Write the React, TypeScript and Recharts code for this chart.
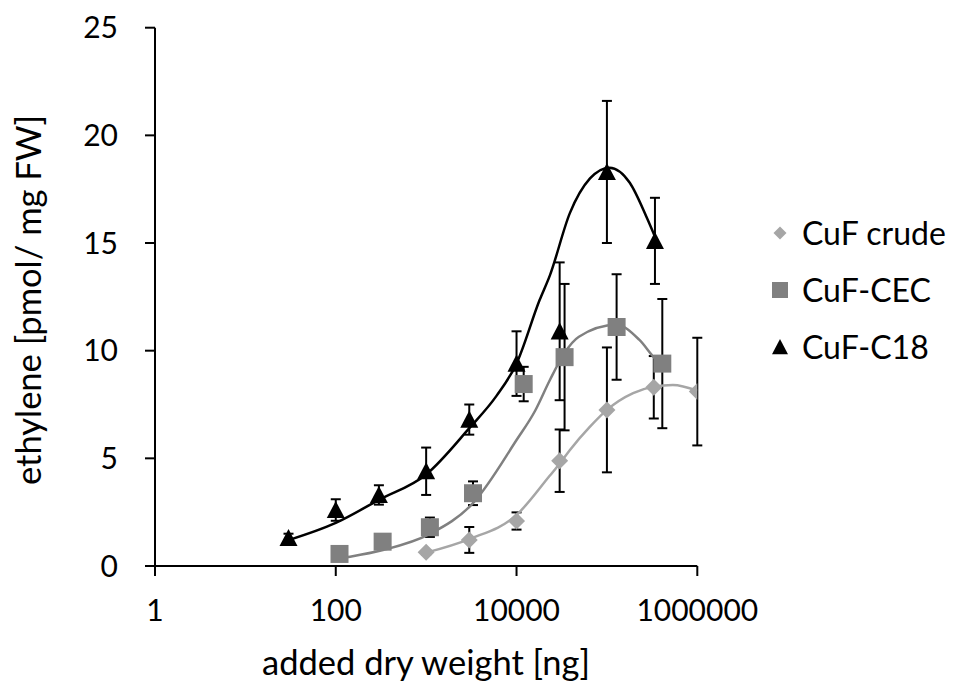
import React from "react";
import { ComposedChart, Scatter, XAxis, YAxis, ErrorBar, Label } from "recharts";

const FONT = "Lato, 'Open Sans', sans-serif";
const TICK_FS = 30;
const TITLE_FS = 34.5;
const LEGEND_FS = 32;

const xTicks = [1, 100, 10000, 1000000];
const yTicks = [0, 5, 10, 15, 20, 25];
const seriesNames = ["CuF crude", "CuF-CEC", "CuF-C18"];

// measured points (mean, error)
const crudeX = [1000, 3000, 10000, 30000, 100000, 330000, 1000000];
const crudeY = [0.64, 1.21, 2.09, 4.89, 7.25, 8.3, 8.1];
const crudeErr = [0.1, 0.6, 0.4, 1.45, 2.9, 1.45, 2.5];

const cecX = [110, 330, 1100, 3300, 12000, 34000, 128000, 410000];
const cecY = [0.56, 1.13, 1.8, 3.38, 8.45, 9.7, 11.1, 9.4];
const cecErr = [0.1, 0.1, 0.45, 0.55, 0.8, 3.4, 2.45, 3.0];

const c18X = [30, 100, 300, 1000, 3000, 10000, 30000, 100000, 340000];
const c18Y = [1.3, 2.6, 3.3, 4.4, 6.8, 9.4, 10.9, 18.3, 15.1];
const c18Err = [0.2, 0.5, 0.45, 1.1, 0.7, 1.5, 3.2, 3.3, 2.0];

// smoothed trend lines
const crudeCurveX = [1000, 3000, 10000, 23400, 30000, 39000, 65000, 100000, 195000, 331000, 537000, 1000000];
const crudeCurveY = [0.62, 1.25, 2.37, 4.2, 4.75, 5.39, 6.47, 7.25, 8.03, 8.33, 8.41, 8.14];

const cecCurveX = [110, 144, 333, 1100, 3300, 10000, 16000, 23400, 34000, 49000, 128000, 229000, 355000, 410000];
const cecCurveY = [0.35, 0.43, 0.74, 1.49, 2.92, 5.85, 7.2, 8.64, 9.9, 10.65, 11.2, 10.5, 9.57, 9.4];

const c18CurveX = [30, 100, 300, 1000, 3000, 6000, 10000, 18000, 23400, 39000, 65000, 107000, 179000, 275000, 340000];
const c18CurveY = [1.2, 2.0, 3.07, 4.25, 6.4, 7.9, 9.4, 12.35, 13.5, 16.4, 18.0, 18.5, 17.8, 16.2, 15.3];

const pts = (xs: number[], ys: number[], es?: number[]) =>
  xs.map((x, i) => ({ x, y: ys[i], err: es ? es[i] : 0 }));

const Diamond = ({ cx, cy, r = 8.5 }: any) => (
  <polygon points={`${cx},${cy - r} ${cx + r},${cy} ${cx},${cy + r} ${cx - r},${cy}`} fill="#A6A6A6" />
);
const Square = ({ cx, cy, r = 9 }: any) => (
  <rect x={cx - r} y={cy - r} width={r * 2} height={r * 2} fill="#808080" />
);
const Triangle = ({ cx, cy, r = 9 }: any) => (
  <polygon points={`${cx},${cy - r} ${cx + r},${cy + r * 0.9} ${cx - r},${cy + r * 0.9}`} fill="#000" />
);
const Empty = () => <g />;

const markers = [
  <Diamond cx={10} cy={10} r={6.5} />,
  <Square cx={10} cy={10} r={8} />,
  <Triangle cx={10} cy={10} r={8} />,
];

const XTitle = () => (
  <text x={418} y={667} textAnchor="middle" fontFamily={FONT} fontSize={TITLE_FS} fill="#000">
    added dry weight [ng]
  </text>
);

const YTitle = () => (
  <text
    x={33}
    y={292}
    transform="rotate(-90, 33, 292)"
    textAnchor="middle"
    fontFamily={FONT}
    fontSize={TITLE_FS}
    fill="#000"
  >
    ethylene [pmol/ mg FW]
  </text>
);

export default function App() {
  const tickStyle = { fill: "#000", fontSize: TICK_FS, fontFamily: FONT };
  const axisLine = { stroke: "#000", strokeWidth: 2 };
  return (
    <div style={{ position: "relative", width: 946, height: 675 }}>
      <ComposedChart width={946} height={675} margin={{ top: 19.7, right: 256.7, bottom: 7, left: 0 }}>
        <XAxis
          type="number"
          dataKey="x"
          scale="log"
          domain={[1, 1000000]}
          ticks={xTicks}
          interval={0}
          allowDataOverflow
          tickFormatter={(v) => String(v)}
          axisLine={axisLine}
          tickLine={axisLine}
          tickSize={10}
          tickMargin={24}
          height={110}
          tick={tickStyle}
        >
          <Label content={XTitle} />
        </XAxis>
        <YAxis
          type="number"
          dataKey="y"
          domain={[0, 25]}
          ticks={yTicks}
          interval={0}
          allowDataOverflow
          axisLine={axisLine}
          tickLine={axisLine}
          tickSize={10}
          tickMargin={27}
          width={147}
          tick={tickStyle}
        >
          <Label content={YTitle} />
        </YAxis>

        <Scatter data={pts(crudeCurveX, crudeCurveY)} shape={Empty} line={{ stroke: "#A6A6A6", strokeWidth: 2.5 }} lineJointType="monotoneX" legendType="none" isAnimationActive={false} />
        <Scatter data={pts(cecCurveX, cecCurveY)} shape={Empty} line={{ stroke: "#808080", strokeWidth: 2.5 }} lineJointType="monotoneX" legendType="none" isAnimationActive={false} />
        <Scatter data={pts(c18CurveX, c18CurveY)} shape={Empty} line={{ stroke: "#000", strokeWidth: 2.5 }} lineJointType="monotoneX" legendType="none" isAnimationActive={false} />

        <Scatter name="CuF crude" data={pts(crudeX, crudeY, crudeErr)} shape={Diamond} isAnimationActive={false}>
          <ErrorBar dataKey="err" direction="y" width={5} stroke="#000" strokeWidth={2} />
        </Scatter>
        <Scatter name="CuF-CEC" data={pts(cecX, cecY, cecErr)} shape={Square} isAnimationActive={false}>
          <ErrorBar dataKey="err" direction="y" width={5} stroke="#000" strokeWidth={2} />
        </Scatter>
        <Scatter name="CuF-C18" data={pts(c18X, c18Y, c18Err)} shape={Triangle} isAnimationActive={false}>
          <ErrorBar dataKey="err" direction="y" width={5} stroke="#000" strokeWidth={2} />
        </Scatter>
      </ComposedChart>

      <div style={{ position: "absolute", left: 762, top: 196, fontFamily: FONT, fontSize: LEGEND_FS, color: "#000", whiteSpace: "nowrap" }}>
        {seriesNames.map((name, i) => (
          <div key={name} style={{ display: "flex", alignItems: "center", height: 57 }}>
            <svg width={20} height={20}>{markers[i]}</svg>
            <span style={{ marginLeft: 12 }}>{name}</span>
          </div>
        ))}
      </div>
    </div>
  );
}
